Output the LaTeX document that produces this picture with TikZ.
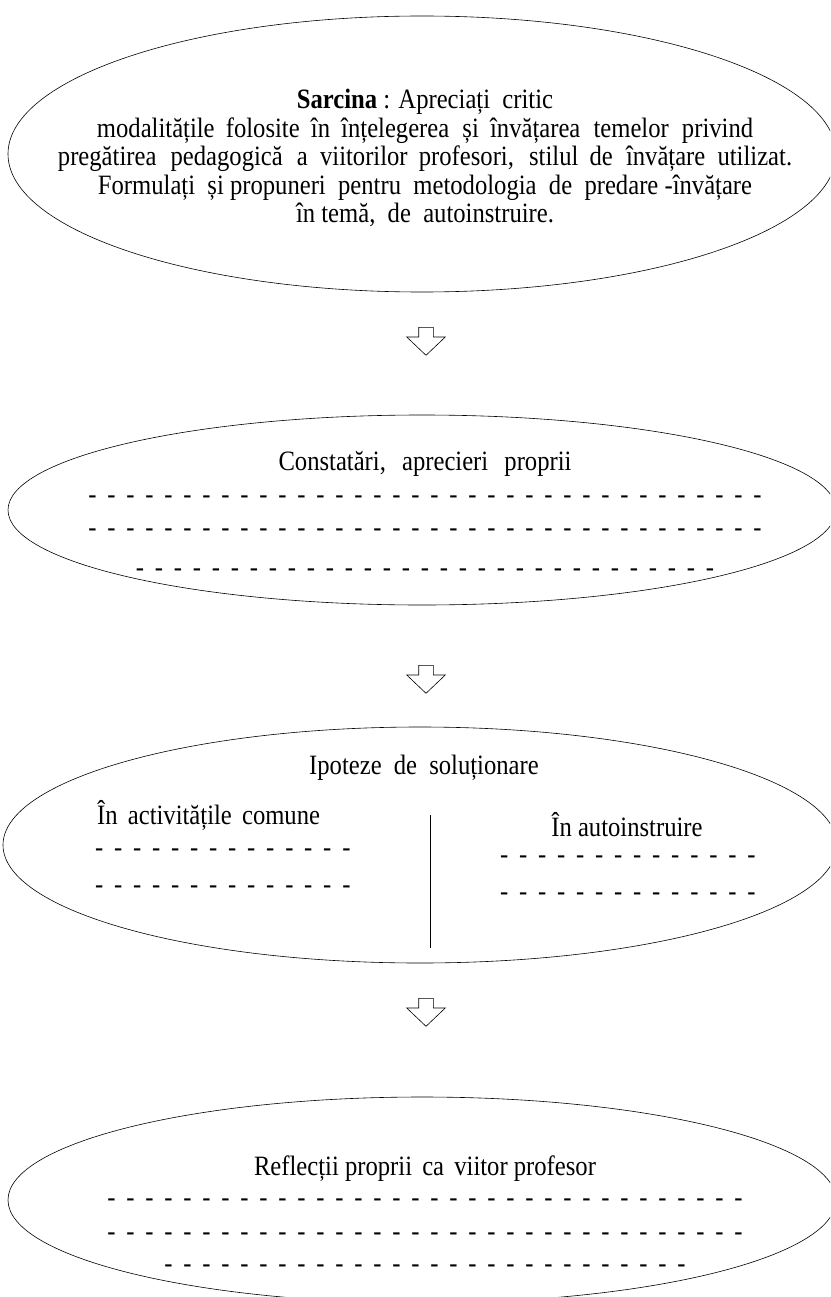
\documentclass[tikz,border=0pt]{standalone}
\usepackage{fontspec}
\setmainfont{Liberation Serif}[FakeStretch=0.88]
\usetikzlibrary{shapes.geometric,shapes.arrows}

\newcommand{\dashrow}[1]{\foreach \k in {2,...,#1}{-\hspace{10.8pt}}-}
\newcommand{\wsp}[1]{\hspace{#1pt}}

\tikzset{
  bubble/.style={draw, ellipse, line width=0.6pt, inner sep=0pt},
  downarrow/.style={draw, single arrow, rotate=-90, line width=0.6pt, inner xsep=0pt, inner ysep=7pt,
    minimum height=28pt, single arrow head extend=12pt, single arrow tip angle=93, anchor=tail},
  body/.style={font=\fontsize{28}{28.5}\selectfont, align=center, inner sep=0pt}
}

\begin{document}
\begin{tikzpicture}[x=1pt, y=-1pt]
    \useasboundingbox (0,0) rectangle (830,1297);
    \clip (0,0) rectangle (830,1297);

    % the four bubbles
    \node (task) [bubble, minimum width=828pt, minimum height=276pt] at (422,154) {};
    \node (findings) [bubble, minimum width=828pt, minimum height=190pt] at (422,510) {};
    \node (hypotheses) [bubble, minimum width=834pt, minimum height=236pt] at (420,845) {};
    \node (reflection) [bubble, minimum width=828pt, minimum height=206pt] at (422,1200) {};

    % hollow arrows between them
    \node (a1) [downarrow] at (426,327) {};
    \node (a2) [downarrow] at (426,665) {};
    \node (a3) [downarrow] at (426,998) {};

    \node (tasktext) [body] at (425,158) {\textbf{Sarcina} : Apreciați\ \ critic\\
        modalitățile \wsp{5}folosite \wsp{5}în \wsp{5}înțelegerea \wsp{7}și \wsp{5}învățarea \wsp{7}temelor \wsp{7}privind\\
        pregătirea \wsp{8}pedagogică \wsp{8}a \wsp{6}viitorilor \wsp{5}profesori, \wsp{9}stilul \wsp{5}de \wsp{7}învățare \wsp{6}utilizat.\\
        Formulați\ \ și propuneri\ \ pentru\ \ metodologia\ \ de\ \ predare -învățare\\
        în temă,\ \ de\ \ autoinstruire.};

    \node (findingstext) [body] at (425,514) {Constatări, \wsp{10}aprecieri \wsp{10}proprii\\[4.5pt]
        \dashrow{36}\\[4.5pt] \dashrow{36}\\[11.5pt] \dashrow{31}};

    \node (hyptitle) [body] at (424,768) {Ipoteze \wsp{6}de \wsp{6}soluționare};
    \node (common) [body, anchor=west] at (97,815) {În \wsp{4}activitățile \wsp{4}comune};
    \node (commondash) [body, anchor=west] at (95,871.5) {\dashrow{14}\\[8.5pt]\dashrow{14}};
    \node (self) [body] at (627,825) {În autoinstruire};
    \node (selfdash) [body, anchor=west] at (500,878.5) {\dashrow{14}\\[8.5pt]\dashrow{14}};
    \coordinate (splittop) at (430,815);
    \coordinate (splitbot) at (430,948);
    \draw [line width=0.6pt] (splittop) -- (splitbot);

    \node (reflecttext) [body] at (425,1214) {Reflecții proprii \wsp{4}ca \wsp{4}viitor profesor\\[2.5pt]
        \dashrow{34}\\[5.5pt] \dashrow{34}\\[3.5pt] \dashrow{28}};
\end{tikzpicture}
\end{document}
